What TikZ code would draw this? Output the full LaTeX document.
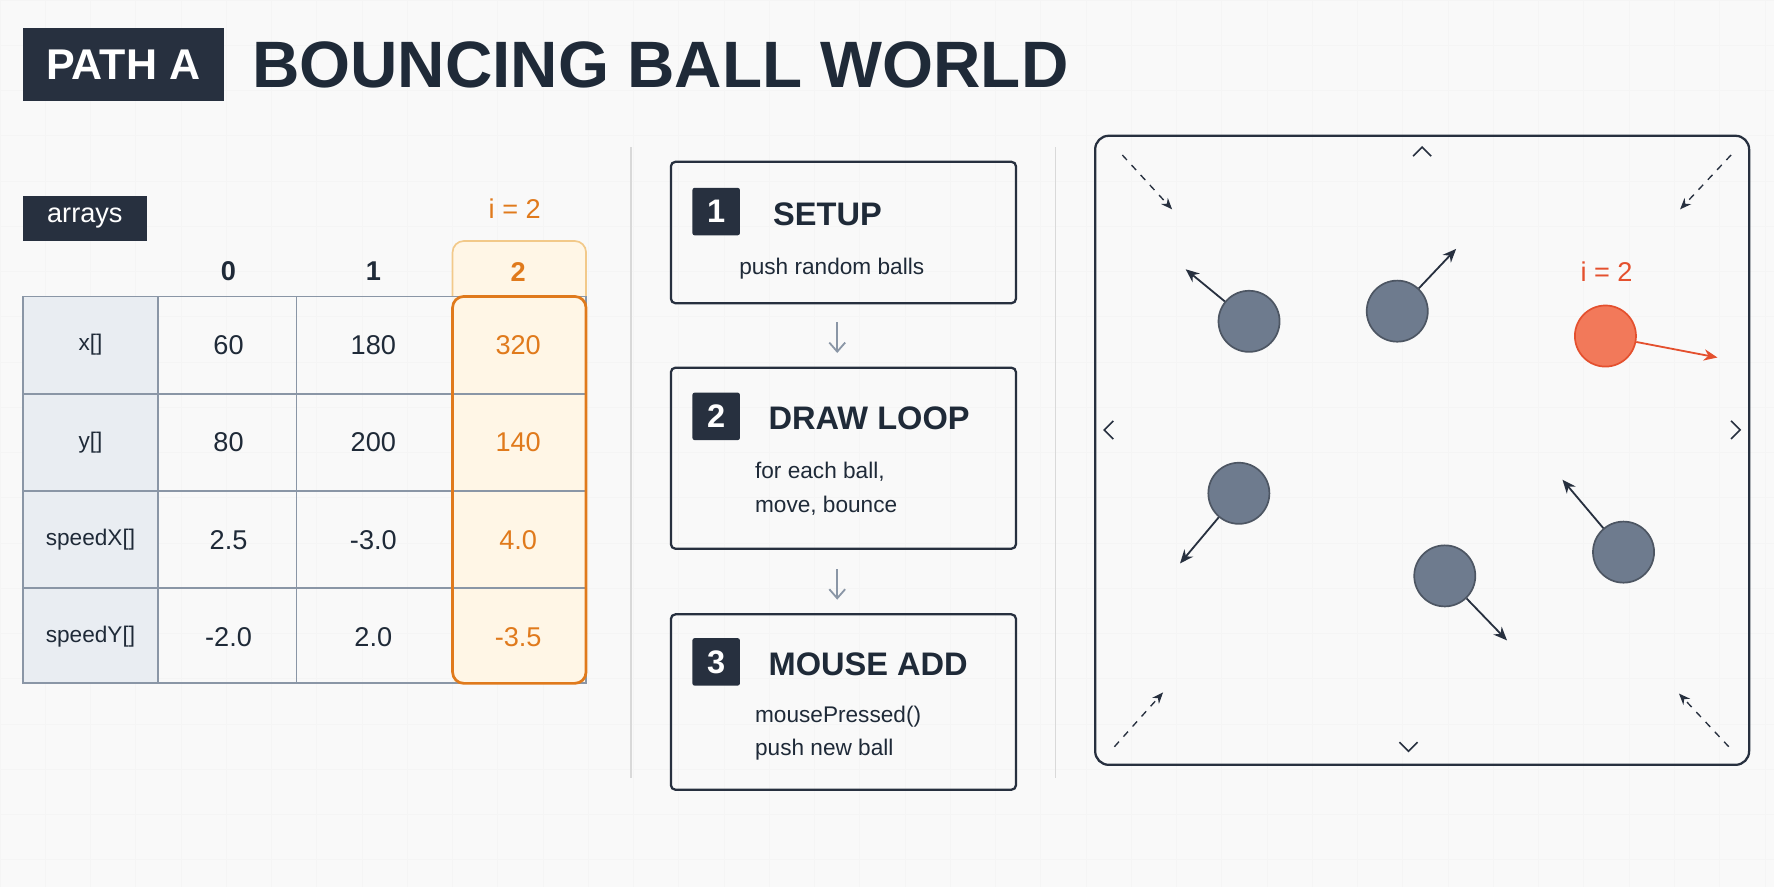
\documentclass[tikz,border=0pt]{standalone}
\usepackage{fontspec}
\setmainfont{Liberation Sans}
\usetikzlibrary{arrows.meta,positioning}
\definecolor{ink}{HTML}{1F2A38}
\definecolor{navy}{HTML}{27303F}
\definecolor{ora}{HTML}{E07A1C}
\definecolor{orafill}{HTML}{FFF6E6}
\definecolor{oraline}{HTML}{F2C98A}
\definecolor{rowhead}{HTML}{E9EDF2}
\definecolor{gridc}{HTML}{8A96A6}
\definecolor{ballc}{HTML}{6E7B8E}
\definecolor{redb}{HTML}{F2795A}
\definecolor{redl}{HTML}{E4502E}
\definecolor{bg}{HTML}{F9F9F9}
\tikzset{every picture/.style={line width=0.75pt}}
\tikzset{
  tag/.style={fill=navy,text=white,font=\bfseries,inner sep=0pt},
  cell/.style={font=\large,text=ink},
  ocell/.style={font=\large,text=ora},
  stepbox/.style={draw=navy,line width=1pt,rounded corners=2pt},
  badge/.style={fill=navy,text=white,font=\Large\bfseries,minimum size=21pt,inner sep=0pt,rounded corners=1pt},
  ball/.style={circle,fill=ballc,draw=ballc!70!black,minimum size=27pt,inner sep=0pt},
  vel/.style={-{Stealth[length=6pt,width=5pt]},draw=navy,line width=0.8pt},
  wall/.style={-{Stealth[length=5pt,width=4pt]},draw=navy,dashed,line width=0.6pt},
}
\begin{document}
\begin{tikzpicture}[x=0.5pt,y=0.5pt,yscale=-1]
	\useasboundingbox (0,0) rectangle (1568,784);
	\fill[bg] (0,0) rectangle (1568,784);
	% faint grid
	\draw[black!4,line width=0.4pt,step=40] (0,0) grid (1568,784);
	
	% title
	\node[tag,minimum width=89pt,minimum height=32pt,font=\fontsize{19}{22}\selectfont\bfseries] (path) at (109,57) {PATH A};
	\node[anchor=west,font=\fontsize{29}{34}\selectfont\bfseries,text=ink,inner sep=0pt] (title) at (222,57) {BOUNCING BALL WORLD};
	
	% arrays table
	\node[tag,minimum width=55pt,minimum height=20pt,font=\large] (arrays) at (75,193) {arrays};
	\fill[orafill,draw=oraline,rounded corners=5pt] (400,262) |- (518,213) -- (518,262);
	\fill[rowhead] (20,262) rectangle (140,604);
	\fill[orafill] (400,262) rectangle (518,604);
	\draw[gridc,line width=0.8pt] (20,262) rectangle (518,604);
	\foreach \y in {348,434,520} \draw[gridc,line width=0.8pt] (20,\y) -- (518,\y);
	\foreach \x in {140,262} \draw[gridc,line width=0.8pt] (\x,262) -- (\x,604);
	\draw[ora,line width=1.2pt,rounded corners=5pt] (400,262) rectangle (518,604);
	\node[ocell] (ilab) at (455,184) {i = 2};
	\node[cell,font=\large\bfseries] (h0) at (202,240) {0};
	\node[cell,font=\large\bfseries] (h1) at (330,240) {1};
	\node[ocell,font=\large\bfseries] (h2) at (458,240) {2};
	\foreach \n/\a/\b/\c [count=\r] in {x[]/60/180/320,y[]/80/200/140,speedX[]/2.5/-3.0/4.0,speedY[]/-2.0/2.0/-3.5}{
	  \node[cell,font=\normalsize] (n\r) at (80,{262+86*\r-43}) {\n};
	  \node[cell] (a\r) at (202,{262+86*\r-43}) {\a};
	  \node[cell] (b\r) at (330,{262+86*\r-43}) {\b};
	  \node[ocell] (c\r) at (458,{262+86*\r-43}) {\c};
	}
	
	% separators
	\draw[black!15] (558,130) -- (558,688);
	\draw[black!15] (933,130) -- (933,688);
	
	% steps
	\draw[stepbox] (593,143) rectangle (898,268);
	\draw[stepbox] (593,325) rectangle (898,485);
	\draw[stepbox] (593,543) rectangle (898,698);
	\node[badge] (s1) at (633,187) {1};
	\node[badge] (s2) at (633,368) {2};
	\node[badge] (s3) at (633,585) {3};
	\node[anchor=west,font=\Large\bfseries,text=ink] (t1) at (676,189) {SETUP};
	\node[anchor=west,font=\Large\bfseries,text=ink] (t2) at (672,370) {DRAW LOOP};
	\node[anchor=west,font=\Large\bfseries,text=ink] (t3) at (672,587) {MOUSE ADD};
	\node[anchor=west,text=ink,font=\normalsize] (d1) at (646,237) {push random balls};
	\node[anchor=west,text=ink,font=\normalsize,align=left] (d2) at (660,432) {for each ball,\\[3pt]move, bounce};
	\node[anchor=west,text=ink,font=\normalsize,align=left] (d3) at (660,648) {mousePressed()\\[3pt]push new ball};
	\coordinate (g1) at (740,285); \coordinate (g2) at (740,312);
	\coordinate (g3) at (740,503); \coordinate (g4) at (740,530);
	\draw[-{Straight Barb[length=4pt,width=7pt]},gridc,line width=0.8pt] (g1) -- (g2);
	\draw[-{Straight Barb[length=4pt,width=7pt]},gridc,line width=0.8pt] (g3) -- (g4);
	
	% world
	\draw[navy,line width=1pt,rounded corners=6pt] (968,120) rectangle (1546,676);
	\node[ball] (b1) at (1104,284) {};
	\node[ball] (b2) at (1235,275) {};
	\node[ball] (b3) at (1095,436) {};
	\node[ball] (b4) at (1277,509) {};
	\node[ball] (b5) at (1435,488) {};
	\node[circle,fill=redb,draw=redl,minimum size=27pt,inner sep=0pt] (bi) at (1419,297) {};
	\node[text=redl,font=\large] (blab) at (1420,240) {i = 2};
	\coordinate (v1) at (1048,238); \coordinate (v2) at (1287,220);
	\coordinate (v3) at (1043,498); \coordinate (v4) at (1332,566);
	\coordinate (v5) at (1381,424); \coordinate (vi) at (1518,316);
	\draw[vel] (b1) -- (v1);
	\draw[vel] (b2) -- (v2);
	\draw[vel] (b3) -- (v3);
	\draw[vel] (b4) -- (v4);
	\draw[vel] (b5) -- (v5);
	\draw[vel,draw=redl] (bi) -- (vi);
	% corner hints
	\draw[wall] (992,137) -- (1036,185);
	\draw[wall] (1530,137) -- (1485,185);
	\draw[wall] (985,660) -- (1028,612);
	\draw[wall] (1528,660) -- (1484,613);
	\draw[navy,line width=0.7pt] (1249,138) -- (1257,130) -- (1265,138);
	\draw[navy,line width=0.7pt] (1237,656) -- (1245,664) -- (1253,656);
	\draw[navy,line width=0.7pt] (984,372) -- (976,380) -- (984,388);
	\draw[navy,line width=0.7pt] (1530,372) -- (1538,380) -- (1530,388);
\end{tikzpicture}
\end{document}
